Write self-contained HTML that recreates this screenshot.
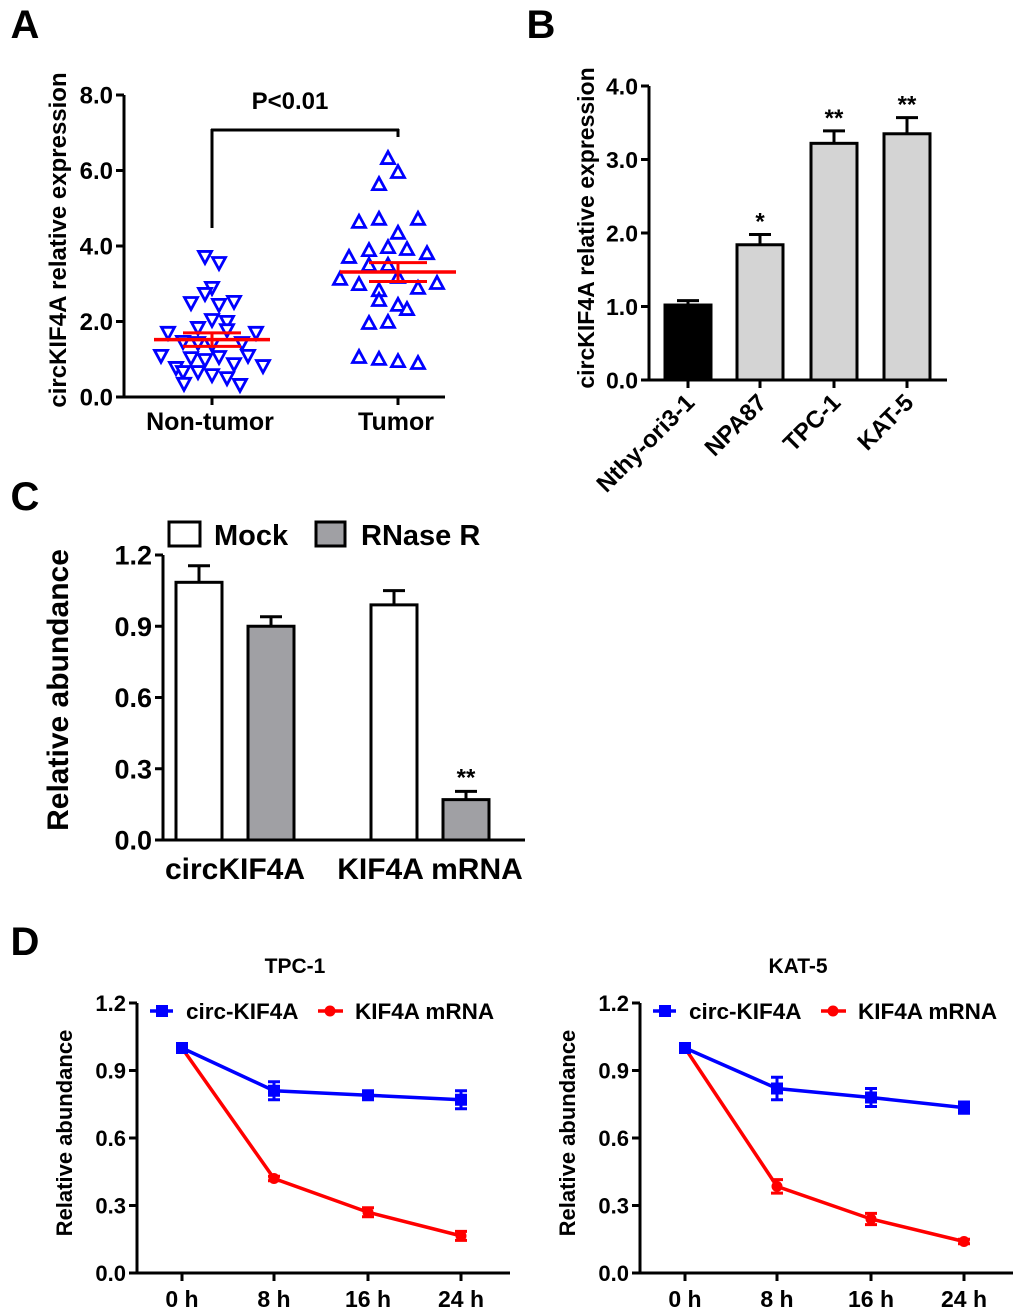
<!DOCTYPE html>
<html><head><meta charset="utf-8"><style>
body{margin:0;background:#fff}
svg{display:block;font-family:"Liberation Sans",Arial,sans-serif;font-weight:bold}
</style></head><body>
<svg id="s" width="1020" height="1313" viewBox="0 0 1020 1313"></svg>
<script>
// ---- Panel A data
const aCats=["Non-tumor","Tumor"];
const aNon=[3.71,3.55,2.89,2.73,2.49,2.44,2.52,2.04,1.99,1.83,1.77,1.70,1.70,1.46,1.43,1.38,1.43,1.09,1.03,0.98,1.06,1.09,0.87,0.82,0.77,0.66,0.66,0.58,0.50,0.32,0.35];
const aNonJit=[-7,7,0,-7,-21,7,22,0,15,-14,15,-44,44,-29,-14,0,30,-51,-21,-7,7,36,22,51,-36,-29,-14,0,15,28,-28];
const aTum=[6.33,5.96,5.64,4.64,4.72,4.72,4.35,3.89,3.97,3.92,3.71,3.81,3.50,3.50,3.13,2.99,3.18,2.89,3.02,2.83,2.57,2.44,2.33,1.96,1.99,1.06,1.01,0.95,0.90];
const aTumJit=[-10,0,-19,-39,-19,20,0,-29,-10,9,-49,29,-29,-10,-58,-39,0,20,39,-19,-19,0,9,-29,-10,-39,-19,0,20];
const aMean=[1.52,3.31], aSem=[0.18,0.25];
const aYTicks=["0.0","2.0","4.0","6.0","8.0"];
// ---- Panel B data
const bCats=["Nthy-ori3-1","NPA87","TPC-1","KAT-5"];
const bVals=[1.02,1.84,3.22,3.35], bErr=[0.06,0.14,0.17,0.22], bSig=["","*","**","**"];
const bYTicks=["0.0","1.0","2.0","3.0","4.0"];
// ---- Panel C data
const cCats=["circKIF4A","KIF4A mRNA"];
const cMock=[1.085,0.99], cMockErr=[0.07,0.06];
const cRnase=[0.90,0.17], cRnaseErr=[0.04,0.035];
const cYTicks=["0.0","0.3","0.6","0.9","1.2"];
// ---- Panel D data
const dTimes=["0 h","8 h","16 h","24 h"];
const dYTicks=["0.0","0.3","0.6","0.9","1.2"];
const d1Circ=[1.0,0.81,0.79,0.77], d1CircErr=[0.01,0.04,0.015,0.04];
const d1Mrna=[1.0,0.42,0.27,0.165], d1MrnaErr=[0.01,0.01,0.02,0.02];
const d2Circ=[1.0,0.82,0.78,0.735], d2CircErr=[0.01,0.05,0.04,0.025];
const d2Mrna=[1.0,0.385,0.24,0.14], d2MrnaErr=[0.01,0.03,0.025,0.01];

const S=document.getElementById('s');
function el(t,a,p){const e=document.createElementNS('http://www.w3.org/2000/svg',t);for(const k in a)e.setAttribute(k,a[k]);(p||S).appendChild(e);return e;}
function tx(x,y,s,size,opt){opt=opt||{};const e=el('text',{x:x,y:y,'font-size':size,'text-anchor':opt.anchor||'middle',fill:opt.fill||'#000'});if(opt.rot)e.setAttribute('transform','rotate('+opt.rot+' '+x+' '+y+')');e.textContent=s;return e;}
function ln(x1,y1,x2,y2,c,w){return el('line',{x1:x1,y1:y1,x2:x2,y2:y2,stroke:c||'#000','stroke-width':w||3});}
function yaxis(x,y0,y1,xEnd,ticks,fs,max){
  const g=el('g',{});
  
  
  ln(x,y0+1,x,y1,'#000',3);ln(x-1,y0,xEnd,y0,'#000',3);
  ticks.forEach((t,i)=>{const y=y0-(y0-y1)*i/(ticks.length-1);ln(x-8,y,x,y,'#000',3);
    const l=tx(x-11,y+fs*0.36,t,fs,{anchor:'end'});});
}
// Panel letters
[["A",25,38],["B",541,38],["C",25,510],["D",25,955]].forEach(p=>{const t=tx(p[1],p[2],p[0],40);});

// ===== Panel A
(function(){
 const X0=124,Y0=397,Y1=95,ymax=8;const ys=v=>Y0-(Y0-Y1)*v/ymax;const cx=[212,398];
 yaxis(X0,Y0,Y1,445,aYTicks,24,ymax);
 cx.forEach((c,i)=>{ln(c,Y0,c,Y0+8);const l=tx(c-2,430,aCats[i],25);});
 const t=tx(66,240,"circKIF4A relative expression",24,{rot:-90});
 ln(212,228,212,129);ln(211,130,399,130);ln(398,129,398,137);
 const p=tx(290,109,"P<0.01",24);
 aNon.forEach((v,i)=>{const x=cx[0]+aNonJit[i],y=ys(v);const m=el('polygon',{points:(x-6.5)+','+(y-5.5)+' '+(x+6.5)+','+(y-5.5)+' '+x+','+(y+6.5),fill:'#fff',stroke:'#00f','stroke-width':2.8});
  });
 aTum.forEach((v,i)=>{const x=cx[1]+aTumJit[i],y=ys(v);const m=el('polygon',{points:(x-6.5)+','+(y+5.5)+' '+(x+6.5)+','+(y+5.5)+' '+x+','+(y-6.5),fill:'#fff',stroke:'#00f','stroke-width':2.8});
  });
 cx.forEach((c,i)=>{const m=ys(aMean[i]),u=ys(aMean[i]+aSem[i]),d=ys(aMean[i]-aSem[i]);
  ln(c-58,m,c+58,m,'#f00',3.5);ln(c-29,u,c+29,u,'#f00',3);ln(c-29,d,c+29,d,'#f00',3);ln(c,u,c,d,'#f00',3);});
})();

// ===== Panel B
(function(){
 const X0=649,Y0=380,Y1=86,ymax=4;const ys=v=>Y0-(Y0-Y1)*v/ymax;const cx=[688,760,834,907],bw=46;
 yaxis(X0,Y0,Y1,947,bYTicks,23,ymax);
 const t=tx(594,228,"circKIF4A relative expression",23,{rot:-90});
 bVals.forEach((v,i)=>{const c=cx[i],y=ys(v),e=ys(v+bErr[i]);
  ln(c,y,c,e,'#000',3);ln(c-11,e,c+11,e,'#000',3);
  const r=el('rect',{x:c-bw/2,y:y,width:bw,height:Y0-y,fill:i==0?'#000':'#d4d4d4',stroke:'#000','stroke-width':3});
  
  if(bSig[i]){const s=tx(c,e-5,bSig[i],24);}
  ln(c,Y0,c,Y0+8);
  const l=tx(c+8,Y0+24,bCats[i],24,{anchor:'end',rot:-45});});
})();

// ===== Panel C
(function(){
 const X0=163,Y0=840,Y1=555,ymax=1.2;const ys=v=>Y0-(Y0-Y1)*v/ymax;const gc=[235,430],bw=46;
 yaxis(X0,Y0,Y1,525,cYTicks,27,ymax);
 const t=tx(68,690,"Relative abundance",30,{rot:-90});
 function bar(x,v,er,fill,name){const y=ys(v),e=ys(v+er);ln(x,y,x,e,'#000',3);ln(x-11,e,x+11,e,'#000',3);
  const r=el('rect',{x:x-bw/2,y:y,width:bw,height:Y0-y,fill:fill,stroke:'#000','stroke-width':3});return e;}
 gc.forEach((c,i)=>{bar(c-36,cMock[i],cMockErr[i],'#fff','bar-mock');const e=bar(c+36,cRnase[i],cRnaseErr[i],'#a0a0a4','bar-rnase-r');
  if(i==1){const s=tx(c+36,e-6,"**",24);}
  const l=tx(c,879,cCats[i],30);});
 const lg=el('g',{});
 el('rect',{x:169,y:522,width:31,height:24,fill:'#fff',stroke:'#000','stroke-width':3},lg);
 el('rect',{x:316,y:522,width:29,height:24,fill:'#a0a0a4',stroke:'#000','stroke-width':3},lg);
 tx(214,545,"Mock",29,{anchor:'start'});tx(361,545,"RNase R",29,{anchor:'start'});
})();

// ===== Panel D
function lineChart(ox,title,circ,circE,mrna,mrnaE,nm){
 const X0=137+ox,Y0=1273,Y1=1003,ymax=1.2;const ys=v=>Y0-(Y0-Y1)*v/ymax;const xs=[182,274,368,461].map(v=>v+ox);
 yaxis(X0,Y0,Y1,510+ox,dYTicks,22,ymax);
 const tt=tx(295+ox,973,title,21);
 const t=tx(72+ox,1133,"Relative abundance",22,{rot:-90});
 xs.forEach((x,i)=>{ln(x,Y0,x,Y0+8);const l=tx(x,1307,dTimes[i],23);});
 function series(vals,errs,col,sq,name){
  const pl=el('polyline',{points:vals.map((v,i)=>xs[i]+','+ys(v)).join(' '),fill:'none',stroke:col,'stroke-width':3.5});
  
  vals.forEach((v,i)=>{const x=xs[i],u=ys(v+errs[i]),d=ys(v-errs[i]);ln(x,u,x,d,col,3);ln(x-6,u,x+6,u,col,3);ln(x-6,d,x+6,d,col,3);
   const m=sq?el('rect',{x:x-6,y:ys(v)-6,width:12,height:12,fill:col}):el('circle',{cx:x,cy:ys(v),r:5.5,fill:col});
   });
 }
 series(mrna,mrnaE,'#f00',false,'kif4a-mrna');
 series(circ,circE,'#00f',true,'circ-kif4a');
 const lg=el('g',{});
 el('line',{x1:150+ox,y1:1011,x2:173+ox,y2:1011,stroke:'#00f','stroke-width':3.5},lg);el('rect',{x:156+ox,y:1005,width:12,height:12,fill:'#00f'},lg);
 el('line',{x1:318+ox,y1:1011,x2:343+ox,y2:1011,stroke:'#f00','stroke-width':3.5},lg);el('circle',{cx:330+ox,cy:1011,r:5.5,fill:'#f00'},lg);
 tx(186+ox,1019,"circ-KIF4A",22.5,{anchor:'start'});tx(355+ox,1019,"KIF4A mRNA",22.5,{anchor:'start'});
}
lineChart(0,"TPC-1",d1Circ,d1CircErr,d1Mrna,d1MrnaErr,'tpc1');
lineChart(503,"KAT-5",d2Circ,d2CircErr,d2Mrna,d2MrnaErr,'kat5');
</script>
</body></html>
